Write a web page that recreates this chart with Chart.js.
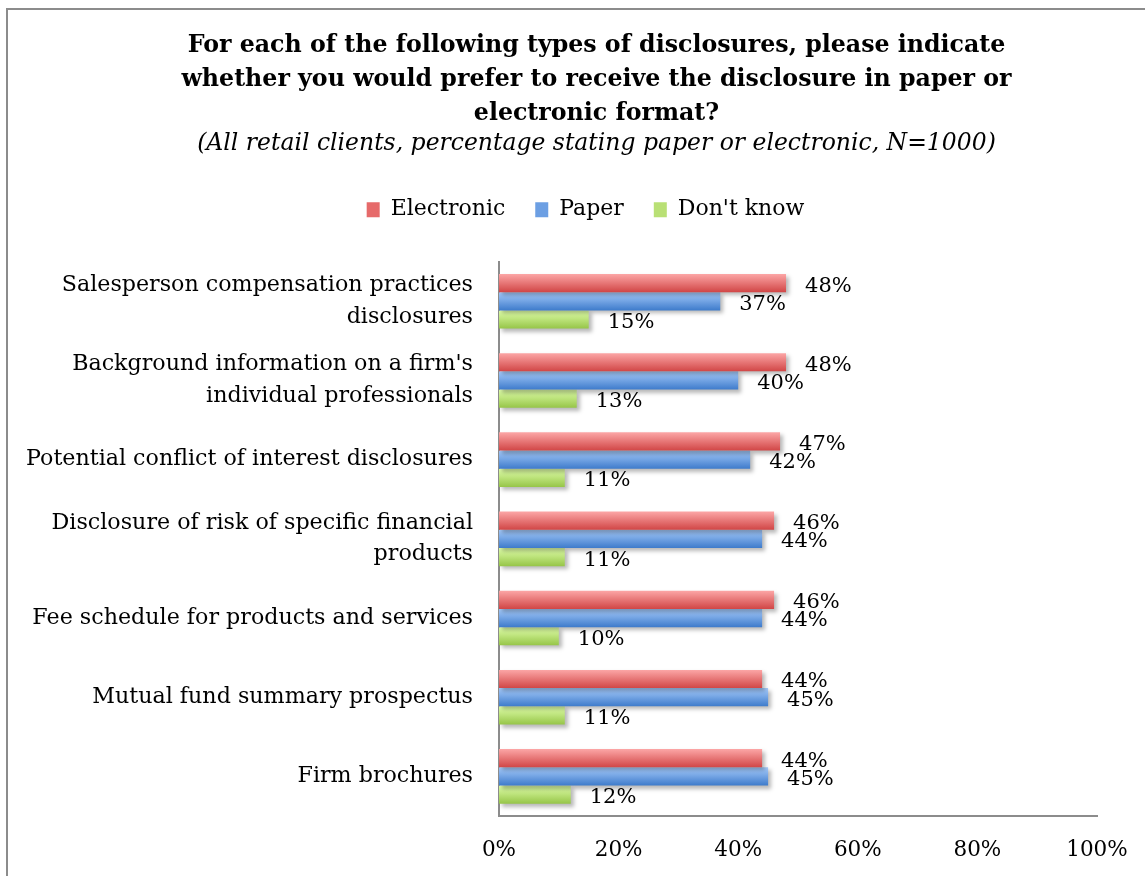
<!DOCTYPE html>
<html>
<head>
<meta charset="utf-8">
<script src="https://cdn.jsdelivr.net/npm/chart.js@4/dist/chart.umd.min.js"></script>
<style>
  html, body { margin: 0; padding: 0; background: #fff; }
  #wrap { position: relative; width: 1145px; height: 876px; overflow: hidden; }
  #frame { position: absolute; left: 6px; top: 8px; width: 1160px; height: 900px;
           border-top: 2px solid #8c8c8c; border-left: 2px solid #8c8c8c; }
  canvas { position: absolute; left: 0; top: 0; }
</style>
</head>
<body>
<div id="wrap">
  <div id="frame"></div>
  <canvas id="disclosureChart" width="1145" height="876"></canvas>
</div>
<script>
// 类别与数据
const categories = [
    ['Salesperson compensation practices', 'disclosures'],
    ["Background information on a firm's", 'individual professionals'],
    'Potential conflict of interest disclosures',
    ['Disclosure of risk of specific financial', 'products'],
    'Fee schedule for products and services',
    'Mutual fund summary prospectus',
    'Firm brochures'
];
const electronicValues = [48, 48, 47, 46, 46, 44, 44];
const paperValues = [37, 40, 42, 44, 44, 45, 45];
const dontKnowValues = [15, 13, 11, 11, 10, 11, 12];
const xTicks = [0, 20, 40, 60, 80, 100];

const titleLines = [
    'For each of the following types of disclosures, please indicate',
    'whether you would prefer to receive the disclosure in paper or',
    'electronic format?'
];
const subtitleText = '(All retail clients, percentage stating paper or electronic, N=1000)';

const FONT = '"DejaVu Serif", "Liberation Serif", serif';

// 渐变色（上浅下深）
const seriesColors = [
    { top: '#fca6a6', bottom: '#d14646', legend: '#e66a6a' },
    { top: '#a6cbfb', bottom: '#3e7bcb', legend: '#6c9fe3' },
    { top: '#e0ffaa', bottom: '#96c548', legend: '#b9e075' }
];

// 柱子渐变与阴影
const barStylePlugin = {
    id: 'barStyle',
    beforeDatasetsDraw(chart) {
        const c = chart.ctx;
        chart.data.datasets.forEach((ds, i) => {
            const col = seriesColors[i];
            chart.getDatasetMeta(i).data.forEach(bar => {
                const h = bar.height;
                const g = c.createLinearGradient(0, bar.y - h / 2, 0, bar.y + h / 2);
                g.addColorStop(0, col.top);
                g.addColorStop(1, col.bottom);
                // 选项对象是共享的，复制一份再改
                bar.options = Object.assign({}, bar.options, { backgroundColor: g });
            });
        });
        c.save();
        c.shadowColor = 'rgba(0, 0, 0, 0.28)';
        c.shadowBlur = 4;
        c.shadowOffsetX = 3;
        c.shadowOffsetY = 3;
    },
    afterDatasetsDraw(chart) {
        chart.ctx.restore();
    }
};

// 数值标签
const valueLabelPlugin = {
    id: 'valueLabels',
    afterDatasetsDraw(chart) {
        const c = chart.ctx;
        c.save();
        c.font = '21px ' + FONT;
        c.fillStyle = '#000';
        c.textAlign = 'left';
        c.textBaseline = 'middle';
        chart.data.datasets.forEach((ds, i) => {
            const meta = chart.getDatasetMeta(i);
            meta.data.forEach((bar, j) => {
                c.fillText(ds.data[j] + '%', bar.x + 19, bar.y + 3);
            });
        });
        c.restore();
    }
};

// 图例下方留出空白；标题和图例整体右移
const headerPlugin = {
    id: 'headerLayout',
    afterInit(chart) {
        const legend = chart.legend;
        if (!legend) return;
        const fit = legend.fit.bind(legend);
        legend.fit = function () {
            fit();
            this.height += 31;
        };
    },
    afterLayout(chart) {
        chart.boxes.forEach(box => {
            if (box.position !== 'top') return;
            const shift = box === chart.legend ? 27 : 38;
            box.left += shift;
            box.right += shift;
        });
    }
};

const ctx = document.getElementById('disclosureChart');

new Chart(ctx, {
    type: 'bar',
    data: {
        labels: categories,
        datasets: [
            { label: 'Electronic', data: electronicValues, backgroundColor: seriesColors[0].bottom },
            { label: 'Paper', data: paperValues, backgroundColor: seriesColors[1].bottom },
            { label: "Don't know", data: dontKnowValues, backgroundColor: seriesColors[2].bottom }
        ]
    },
    options: {
        indexAxis: 'y',
        responsive: false,
        animation: false,
        devicePixelRatio: 1,
        datasets: {
            bar: {
                barPercentage: 1,
                categoryPercentage: 0.69,
                borderWidth: 0
            }
        },
        layout: {
            padding: { top: 29, right: 48, bottom: 0, left: 20 }
        },
        plugins: {
            title: {
                display: true,
                text: titleLines,
                color: '#000',
                font: { family: FONT, size: 23.7, weight: 'bold', lineHeight: 1.43 },
                padding: { top: 0, bottom: 0 }
            },
            subtitle: {
                display: true,
                text: subtitleText,
                color: '#000',
                font: { family: FONT, size: 23.5, style: 'italic', lineHeight: 1.15 },
                padding: { top: 0, bottom: 11 }
            },
            legend: {
                position: 'top',
                labels: {
                    color: '#000',
                    font: { family: FONT, size: 22 },
                    boxWidth: 13,
                    boxHeight: 15,
                    padding: 30,
                    generateLabels(chart) {
                        return chart.data.datasets.map((ds, i) => ({
                            text: ds.label,
                            fillStyle: seriesColors[i].legend,
                            strokeStyle: seriesColors[i].legend,
                            lineWidth: 0,
                            datasetIndex: i,
                            hidden: false
                        }));
                    }
                }
            },
            tooltip: { enabled: false }
        },
        scales: {
            x: {
                min: 0,
                max: 100,
                afterBuildTicks(scale) {
                    scale.ticks = xTicks.map(v => ({ value: v }));
                },
                afterFit(scale) {
                    scale.height = 60;
                    scale.paddingLeft = 0;
                    scale.paddingRight = 0;
                },
                grid: { display: false, drawTicks: false },
                border: { display: true, color: '#8c8c8c', width: 2 },
                ticks: {
                    color: '#000',
                    font: { family: FONT, size: 21.5 },
                    padding: 22,
                    maxRotation: 0,
                    callback: v => v + '%'
                }
            },
            y: {
                grid: { display: false, drawTicks: false },
                border: { display: true, color: '#8c8c8c', width: 2 },
                afterFit(scale) {
                    scale.width = 479;
                },
                ticks: {
                    color: '#000',
                    font: { family: FONT, size: 22.2, lineHeight: 1.42 },
                    padding: 26
                }
            }
        }
    },
    plugins: [headerPlugin, barStylePlugin, valueLabelPlugin]
});
</script>
</body>
</html>
